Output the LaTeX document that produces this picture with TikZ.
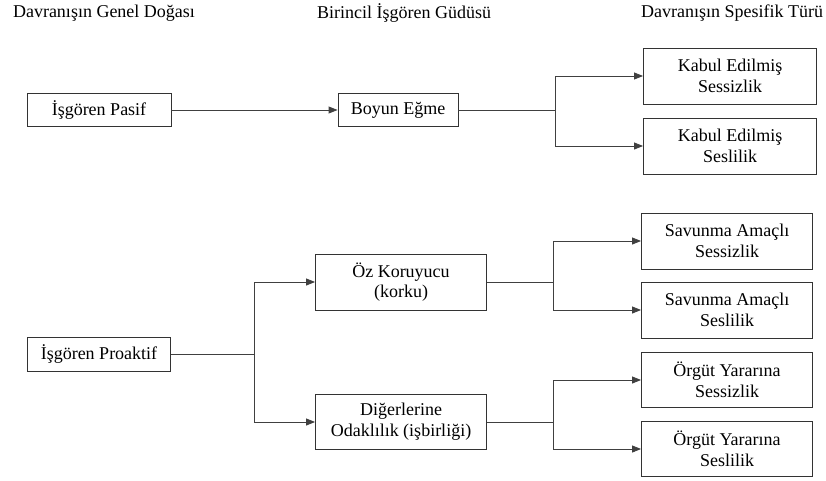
\documentclass[tikz,border=0pt]{standalone}
\usepackage{fontspec}
\setmainfont{Liberation Serif}
\usetikzlibrary{arrows.meta}
\begin{document}
\begin{tikzpicture}[x=1pt,y=-1pt,
  txt/.style={font=\fontsize{18}{20.7}\selectfont},
  box/.style={txt, draw=black!80, line width=0.9pt, align=center, inner sep=0pt},
  head/.style={txt, inner sep=0pt},
  link/.style={draw=black!75, line width=0.9pt},
  arr/.style={link, -{Triangle[length=9pt,width=7pt]}}
]
\useasboundingbox (0,0) rectangle (826,480);

% column headings
\node[head] (h1) at (104,13) {Davranışın Genel Doğası};
\node[head] (h2) at (404,13) {Birincil İşgören Güdüsü};
\node[head] (h3) at (732,13) {Davranışın Spesifik Türü};

% passive branch
\node[box, minimum width=144pt, minimum height=33pt] (pasif) at (99,110) {İşgören Pasif};
\node[box, minimum width=120pt, minimum height=33pt] (boyun) at (398,110) {Boyun Eğme};
\node[box, minimum width=173pt, minimum height=56pt] (kabul1) at (730,76) {Kabul Edilmiş\\Sessizlik};
\node[box, minimum width=173pt, minimum height=56pt] (kabul2) at (730,146) {Kabul Edilmiş\\Seslilik};

% proactive branch
\node[box, minimum width=143pt, minimum height=34pt] (proaktif) at (99,354) {İşgören Proaktif};
\node[box, minimum width=171pt, minimum height=56pt] (oz) at (401,282) {Öz Koruyucu\\(korku)};
\node[box, minimum width=171pt, minimum height=55pt] (diger) at (401,422) {Diğerlerine\\Odaklılık (işbirliği)};
\node[box, minimum width=171pt, minimum height=56pt] (sav1) at (727,241) {Savunma Amaçlı\\Sessizlik};
\node[box, minimum width=171pt, minimum height=56pt] (sav2) at (727,310) {Savunma Amaçlı\\Seslilik};
\node[box, minimum width=171pt, minimum height=55pt] (org1) at (727,380) {Örgüt Yararına\\Sessizlik};
\node[box, minimum width=171pt, minimum height=55pt] (org2) at (727,449) {Örgüt Yararına\\Seslilik};

% junction points of the forks
\coordinate (j1) at (555,110);
\coordinate (j2) at (254,354);
\coordinate (j3) at (553,282);
\coordinate (j4) at (553,422);

% connectors
\draw[arr] (pasif) -- (boyun);
\draw[link] (boyun.east) -- (j1);
\draw[arr] (j1) |- (kabul1.west);
\draw[arr] (j1) |- (kabul2.west);

\draw[link] (proaktif.east) -- (j2);
\draw[arr] (j2) |- (oz.west);
\draw[arr] (j2) |- (diger.west);

\draw[link] (oz.east) -- (j3);
\draw[arr] (j3) |- (sav1.west);
\draw[arr] (j3) |- (sav2.west);

\draw[link] (diger.east) -- (j4);
\draw[arr] (j4) |- (org1.west);
\draw[arr] (j4) |- (org2.west);
\end{tikzpicture}
\end{document}
